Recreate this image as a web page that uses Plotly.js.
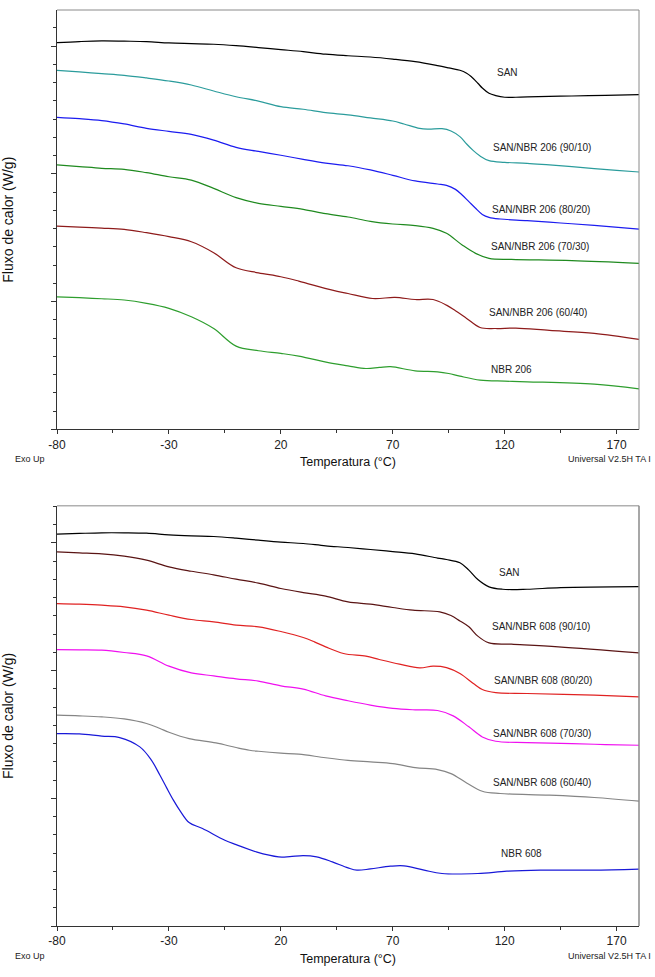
<!DOCTYPE html>
<html>
<head>
<meta charset="utf-8">
<script src="https://cdn.plot.ly/plotly-3.0.1.min.js"></script>
<style>html,body{margin:0;padding:0;background:#fff;}#chart{width:655px;height:977px;}</style>
</head>
<body>
<div id="chart"></div>
<script>
// ---------- Upper panel: SAN / NBR 206 blends (heat flow, arbitrary W/g units) ----------
const tSAN_a   = [-80,-70,-60,-50,-40,-30,-20,-10,0,10,20,30,40,50,60,70,80,90,95,100,103,105,108,110,113,116,120,125,135,150,165,180];
const hSAN_a   = [3.028,3.036,3.041,3.039,3.036,3.025,3.020,3.015,3.004,2.989,2.973,2.957,2.937,2.925,2.915,2.899,2.879,2.848,2.830,2.811,2.788,2.762,2.710,2.672,2.631,2.613,2.600,2.600,2.605,2.610,2.615,2.620];

const t206_90  = [-80,-70,-60,-50,-40,-30,-20,-10,0,10,20,30,40,50,60,70,75,82,86,92,96,100,103,106,109,113,120,130,140,150,160,170,180];
const h206_90  = [2.811,2.798,2.785,2.772,2.751,2.727,2.696,2.649,2.604,2.570,2.526,2.506,2.480,2.462,2.438,2.414,2.391,2.356,2.351,2.354,2.336,2.292,2.234,2.182,2.140,2.104,2.091,2.083,2.070,2.057,2.041,2.028,2.015];

const t206_80  = [-80,-70,-60,-50,-40,-30,-20,-10,0,10,20,30,40,50,60,70,80,90,94,98,101,104,107,110,113,118,130,145,160,180];
const h206_80  = [2.443,2.432,2.417,2.391,2.357,2.333,2.310,2.265,2.208,2.176,2.146,2.114,2.085,2.064,2.031,1.989,1.945,1.921,1.910,1.879,1.835,1.783,1.731,1.683,1.660,1.647,1.634,1.616,1.597,1.568];

const t206_70  = [-80,-70,-60,-50,-40,-30,-20,-10,0,10,20,30,40,50,60,70,80,88,94,101,107,113,123,150,180];
const h206_70  = [2.070,2.057,2.044,2.036,2.010,1.978,1.952,1.887,1.814,1.770,1.746,1.723,1.689,1.663,1.629,1.608,1.596,1.574,1.535,1.444,1.378,1.339,1.331,1.321,1.300];

const t206_60  = [-80,-70,-60,-50,-40,-30,-20,-10,0,10,20,28,43,50,61,71,80,88,94,98,103,109,116,125,140,160,180];
const h206_60  = [1.592,1.584,1.576,1.566,1.540,1.509,1.469,1.383,1.265,1.226,1.195,1.161,1.090,1.064,1.025,1.033,1.017,1.017,0.973,0.929,0.869,0.798,0.790,0.793,0.775,0.752,0.705];

const tNBR206  = [-80,-70,-60,-50,-40,-30,-20,-10,0,10,20,28,43,50,58,64,69,80,90,95,100,109,120,130,160,180];
const hNBR206  = [1.038,1.031,1.023,1.013,0.987,0.948,0.882,0.790,0.652,0.616,0.595,0.574,0.517,0.498,0.477,0.485,0.491,0.459,0.451,0.438,0.417,0.386,0.378,0.373,0.355,0.318];

// ---------- Lower panel: SAN / NBR 608 blends ----------
const tSAN_b   = [-80,-70,-60,-50,-40,-30,-20,-10,0,10,20,30,40,50,60,70,80,90,94,100,104,108,113,119,130,145,180];
const hSAN_b   = [3.067,3.073,3.078,3.078,3.075,3.062,3.054,3.049,3.036,3.020,3.005,2.994,2.976,2.963,2.947,2.931,2.913,2.880,2.869,2.843,2.786,2.712,2.655,2.636,2.636,2.649,2.657];

const t608_90  = [-80,-70,-60,-50,-40,-30,-20,-10,0,10,20,30,40,50,60,70,79,91,96,100,104,108,113,123,144,180];
const h608_90  = [2.929,2.921,2.913,2.895,2.864,2.811,2.777,2.749,2.715,2.684,2.642,2.610,2.582,2.537,2.519,2.493,2.472,2.459,2.430,2.388,2.342,2.269,2.216,2.206,2.185,2.138];

const t608_80  = [-80,-70,-60,-50,-40,-30,-20,-10,0,10,20,30,35,40,48,58,64,73,82,88,94,100,106,110,116,130,160,180];
const h608_80  = [2.524,2.519,2.511,2.498,2.472,2.433,2.399,2.381,2.355,2.342,2.305,2.258,2.224,2.185,2.133,2.112,2.086,2.050,2.021,2.034,2.023,1.976,1.898,1.851,1.827,1.820,1.807,1.794];

const t608_70  = [-80,-70,-60,-50,-40,-30,-20,-10,0,10,20,30,40,50,60,70,80,90,97,104,110,116,130,150,165,180];
const h608_70  = [2.164,2.162,2.159,2.141,2.115,2.034,1.981,1.958,1.935,1.917,1.880,1.854,1.801,1.763,1.729,1.703,1.692,1.687,1.645,1.559,1.480,1.446,1.436,1.428,1.420,1.415];

const t608_60  = [-80,-70,-60,-50,-40,-34,-30,-21,-9,0,6,10,20,28,40,50,60,70,80,90,96,103,110,118,140,160,180];
const h608_60  = [1.650,1.645,1.637,1.621,1.585,1.546,1.517,1.467,1.433,1.397,1.376,1.368,1.353,1.345,1.317,1.297,1.284,1.271,1.240,1.224,1.193,1.120,1.055,1.037,1.024,1.006,0.977];

const tNBR608  = [-80,-70,-60,-52,-43,-38,-34,-31,-28,-25,-21,-15,-5,0,9,19,24,30,36,43,50,54,60,69,75,84,92,108,121,136,159,180];
const hNBR608  = [1.506,1.504,1.486,1.475,1.402,1.303,1.180,1.081,0.985,0.901,0.810,0.763,0.671,0.637,0.580,0.541,0.543,0.551,0.541,0.502,0.455,0.437,0.447,0.468,0.471,0.437,0.411,0.411,0.429,0.437,0.437,0.445];

const labels206 = ["SAN","SAN/NBR 206 (90/10)","SAN/NBR 206 (80/20)","SAN/NBR 206 (70/30)","SAN/NBR 206 (60/40)","NBR 206"];
const labels608 = ["SAN","SAN/NBR 608 (90/10)","SAN/NBR 608 (80/20)","SAN/NBR 608 (70/30)","SAN/NBR 608 (60/40)","NBR 608"];
const xTickVals = [-80,-30,20,70,120,170];
const xTickText = ["-80","-30","20","70","120","170"];

// ---------- styling ----------
const colors206 = ["#000000","#2b9c9c","#1c1cf0","#1f8a1f","#8e1b1b","#2e9e2e"];
const colors608 = ["#000000","#5a1414","#e02222","#f010f0","#858585","#1818d8"];
const labelPos206 = [[115.8,2.796],[113.9,2.205],[113.5,1.725],[113.0,1.428],[112.3,0.919],[113.0,0.472]];
const labelPos608 = [[116.6,2.770],[113.6,2.341],[114.4,1.919],[113.9,1.509],[113.9,1.120],[117.3,0.567]];

const series206 = [[tSAN_a,hSAN_a],[t206_90,h206_90],[t206_80,h206_80],[t206_70,h206_70],[t206_60,h206_60],[tNBR206,hNBR206]];
const series608 = [[tSAN_b,hSAN_b],[t608_90,h608_90],[t608_80,h608_80],[t608_70,h608_70],[t608_60,h608_60],[tNBR608,hNBR608]];

const FONT = "Arial, 'Liberation Sans', sans-serif";
const traces = [];
series206.forEach((s,i)=>traces.push({x:s[0],y:s[1],type:'scatter',mode:'lines',name:labels206[i],
  line:{color:colors206[i],width:1.2,shape:'spline',smoothing:1},xaxis:'x',yaxis:'y',hoverinfo:'x+y+name'}));
series608.forEach((s,i)=>traces.push({x:s[0],y:s[1],type:'scatter',mode:'lines',name:labels608[i],
  line:{color:colors608[i],width:1.2,shape:'spline',smoothing:1},xaxis:'x2',yaxis:'y2',hoverinfo:'x+y+name'}));

const annotations = [];
labels206.forEach((t,i)=>annotations.push({text:t,x:labelPos206[i][0],y:labelPos206[i][1],xref:'x',yref:'y',
  xanchor:'left',yanchor:'middle',showarrow:false,font:{family:FONT,size:10,color:'#222'}}));
labels608.forEach((t,i)=>annotations.push({text:t,x:labelPos608[i][0],y:labelPos608[i][1],xref:'x2',yref:'y2',
  xanchor:'left',yanchor:'middle',showarrow:false,font:{family:FONT,size:10,color:'#222'}}));
[0.5093,-0.0328].forEach(yy=>{
  annotations.push({text:'Exo Up',x:-0.0756,y:yy,xref:'paper',yref:'paper',xanchor:'left',yanchor:'middle',
    showarrow:false,font:{family:FONT,size:9,color:'#222'}});
  annotations.push({text:'Universal V2.5H TA I',x:1.0245,y:yy,xref:'paper',yref:'paper',xanchor:'right',yanchor:'middle',
    showarrow:false,font:{family:FONT,size:9,color:'#222'}});
});

function xAxis(anchor){
  return {anchor:anchor,domain:[0,1],range:[-80,180],tickmode:'array',tickvals:xTickVals,ticktext:xTickText,
    ticks:'outside',ticklen:4,tickwidth:1,tickcolor:'#333',showline:true,linecolor:'#333',linewidth:1,
    showgrid:false,zeroline:false,tickfont:{family:FONT,size:12,color:'#222'},
    minor:{tick0:-80,dtick:25,ticks:'outside',ticklen:3,tickcolor:'#333',showgrid:false},
    title:{text:'Temperatura (°C)',font:{family:FONT,size:12.5,color:'#111'},standoff:6}};
}
function yAxis(anchor,domain,top){
  return {anchor:anchor,domain:domain,range:[0,top],tick0:0,dtick:1,showticklabels:false,
    ticks:'outside',ticklen:5,tickwidth:1,tickcolor:'#333',showline:true,linecolor:'#333',linewidth:1,
    showgrid:false,zeroline:false,
    minor:{tick0:0,dtick:1/7,ticks:'outside',ticklen:3,tickcolor:'#333',showgrid:false},
    title:{text:'Fluxo de calor (W/g)',font:{family:FONT,size:14,color:'#111'},standoff:45}};
}

const layout = {
  width:655,height:977,margin:{l:57,r:16,t:10,b:51},
  paper_bgcolor:'#fff',plot_bgcolor:'#fff',showlegend:false,
  font:{family:FONT},
  xaxis:xAxis('y'),
  yaxis:yAxis('x',[0.5421,1],3.283),
  xaxis2:xAxis('y2'),
  yaxis2:yAxis('x2',[0,0.4587],3.289),
  annotations:annotations,
  shapes:[
    {type:'line',xref:'paper',yref:'paper',x0:0,x1:1,y0:1,y1:1,line:{color:'#8a8a8a',width:1}},
    {type:'line',xref:'paper',yref:'paper',x0:1,x1:1,y0:0.5421,y1:1,line:{color:'#8a8a8a',width:1}},
    {type:'line',xref:'paper',yref:'paper',x0:0,x1:1,y0:0.4587,y1:0.4587,line:{color:'#8a8a8a',width:1}},
    {type:'line',xref:'paper',yref:'paper',x0:1,x1:1,y0:0,y1:0.4587,line:{color:'#8a8a8a',width:1.5}}
  ]
};

Plotly.newPlot('chart',traces,layout,{staticPlot:true,displayModeBar:false});
</script>
</body>
</html>
